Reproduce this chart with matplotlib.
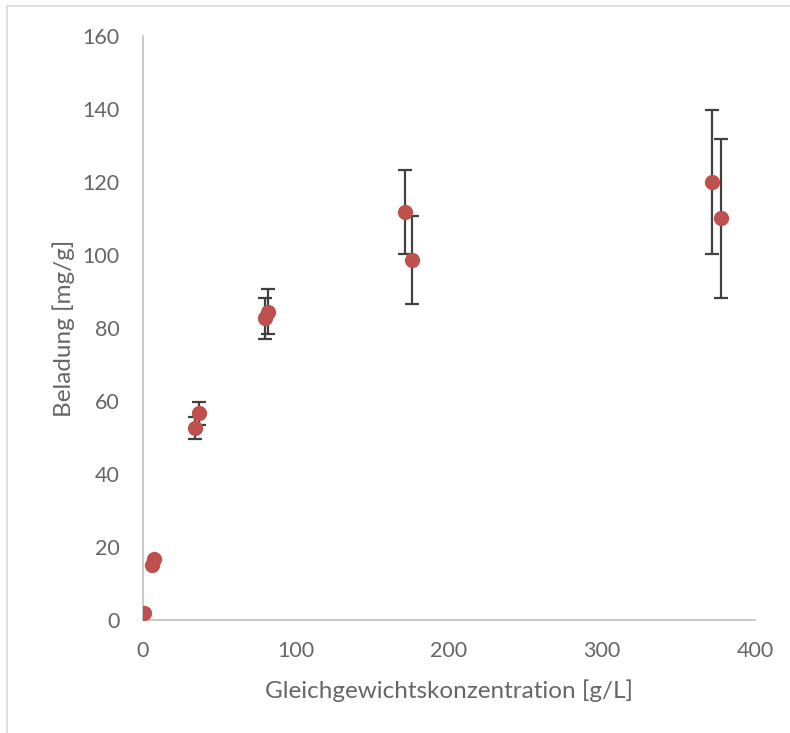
import matplotlib
matplotlib.use("Agg")
import matplotlib.pyplot as plt
from matplotlib.lines import Line2D

# Gleichgewichtskonzentration [g/L]
konzentration = [0.5, 6.0, 7.5, 33.8, 36.6, 79.7, 81.9, 171.2, 176.0, 371.7, 377.6]
# Beladung [mg/g]
beladung = [1.8, 15.2, 16.8, 52.5, 56.6, 82.7, 84.5, 111.9, 98.6, 120.0, 110.0]
# Standardabweichung der Beladung [mg/g]
fehler = [0.0, 0.0, 0.0, 3.0, 3.1, 5.6, 6.2, 11.5, 12.1, 19.7, 21.9]

x_ticks = [0, 100, 200, 300, 400]
y_ticks = [0, 20, 40, 60, 80, 100, 120, 140, 160]

plt.rcParams['font.family'] = ['Lato', 'DejaVu Sans']

fig = plt.figure(figsize=(7.9, 7.33), dpi=100)
ax = fig.add_axes([143 / 790, 1 - 620 / 733, 612 / 790, 584 / 733])

ax.errorbar(konzentration, beladung, yerr=fehler, fmt='none',
            ecolor='#404040', elinewidth=1.6, capsize=5, capthick=1.6, zorder=2)
ax.plot(konzentration, beladung, 'o', color='#C0504D', markersize=11,
        markeredgewidth=0, zorder=3)

ax.set_xlim(0, 400)
ax.set_ylim(0, 160)
ax.set_xticks(x_ticks)
ax.set_yticks(y_ticks)
ax.tick_params(length=0, labelsize=15.5, labelcolor='#666666')
ax.tick_params(axis='x', pad=15)
ax.tick_params(axis='y', pad=17)

for side in ('top', 'right'):
    ax.spines[side].set_visible(False)
for side in ('left', 'bottom'):
    ax.spines[side].set_color('#BFBFBF')
    ax.spines[side].set_linewidth(1.2)

ax.set_xlabel('Gleichgewichtskonzentration [g/L]', fontsize=17.5,
              color='#666666', labelpad=13)
ax.set_ylabel('Beladung [mg/g]', fontsize=17.5, color='#666666', labelpad=5)

# thin frame along the left and top edge of the chart area
fig.add_artist(Line2D([7 / 790, 7 / 790], [0, 1 - 6 / 733],
                      transform=fig.transFigure, color='#D9D9D9', linewidth=1.2))
fig.add_artist(Line2D([7 / 790, 1], [1 - 6 / 733, 1 - 6 / 733],
                      transform=fig.transFigure, color='#D9D9D9', linewidth=1.2))

fig.savefig('out.png', dpi=100, facecolor='white')
